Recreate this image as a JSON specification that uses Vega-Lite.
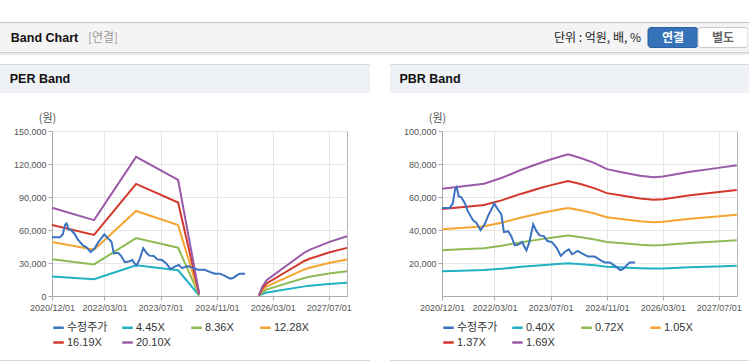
{
  "$schema": "https://vega.github.io/schema/vega-lite/v6.json",
  "padding": {"top": 22, "left": 0, "right": 0, "bottom": 0},
  "background": "white",
  "config": {
    "font": "Liberation Sans, Noto Sans CJK KR",
    "view": {"stroke": null},
    "concat": {"spacing": 0}
  },
  "datasets": {
    "price": [
      {"d": "2020-12-01", "s": "수정주가", "v": 53400},
      {"d": "2021-02-07", "s": "수정주가", "v": 53400},
      {"d": "2021-03-04", "s": "수정주가", "v": 56000},
      {"d": "2021-03-25", "s": "수정주가", "v": 64800},
      {"d": "2021-04-07", "s": "수정주가", "v": 66000},
      {"d": "2021-04-25", "s": "수정주가", "v": 60400},
      {"d": "2021-05-16", "s": "수정주가", "v": 60000},
      {"d": "2021-06-16", "s": "수정주가", "v": 56400},
      {"d": "2021-07-13", "s": "수정주가", "v": 51400},
      {"d": "2021-08-28", "s": "수정주가", "v": 45800},
      {"d": "2021-09-25", "s": "수정주가", "v": 44400},
      {"d": "2021-11-01", "s": "수정주가", "v": 39900},
      {"d": "2021-12-07", "s": "수정주가", "v": 43400},
      {"d": "2022-01-04", "s": "수정주가", "v": 48400},
      {"d": "2022-02-28", "s": "수정주가", "v": 56000},
      {"d": "2022-04-01", "s": "수정주가", "v": 52400},
      {"d": "2022-05-01", "s": "수정주가", "v": 49400},
      {"d": "2022-05-22", "s": "수정주가", "v": 38700},
      {"d": "2022-06-28", "s": "수정주가", "v": 39300},
      {"d": "2022-07-25", "s": "수정주가", "v": 36300},
      {"d": "2022-08-25", "s": "수정주가", "v": 30700},
      {"d": "2022-09-28", "s": "수정주가", "v": 31300},
      {"d": "2022-10-28", "s": "수정주가", "v": 32700},
      {"d": "2022-11-13", "s": "수정주가", "v": 30300},
      {"d": "2022-12-04", "s": "수정주가", "v": 27700},
      {"d": "2022-12-28", "s": "수정주가", "v": 32300},
      {"d": "2023-02-01", "s": "수정주가", "v": 43400},
      {"d": "2023-03-01", "s": "수정주가", "v": 39300},
      {"d": "2023-03-28", "s": "수정주가", "v": 36700},
      {"d": "2023-05-04", "s": "수정주가", "v": 36300},
      {"d": "2023-06-04", "s": "수정주가", "v": 33300},
      {"d": "2023-07-13", "s": "수정주가", "v": 32700},
      {"d": "2023-08-22", "s": "수정주가", "v": 29300},
      {"d": "2023-09-28", "s": "수정주가", "v": 24300},
      {"d": "2023-11-01", "s": "수정주가", "v": 26700},
      {"d": "2023-12-07", "s": "수정주가", "v": 28300},
      {"d": "2024-01-04", "s": "수정주가", "v": 25300},
      {"d": "2024-02-22", "s": "수정주가", "v": 27300},
      {"d": "2024-03-25", "s": "수정주가", "v": 26000},
      {"d": "2024-05-22", "s": "수정주가", "v": 23900},
      {"d": "2024-07-19", "s": "수정주가", "v": 23900},
      {"d": "2024-09-16", "s": "수정주가", "v": 21300},
      {"d": "2024-10-16", "s": "수정주가", "v": 20300},
      {"d": "2024-11-28", "s": "수정주가", "v": 20300},
      {"d": "2025-01-10", "s": "수정주가", "v": 18300},
      {"d": "2025-02-25", "s": "수정주가", "v": 15700},
      {"d": "2025-03-22", "s": "수정주가", "v": 16300},
      {"d": "2025-04-22", "s": "수정주가", "v": 18700},
      {"d": "2025-05-19", "s": "수정주가", "v": 20300},
      {"d": "2025-07-04", "s": "수정주가", "v": 20300}
    ],
    "per": [
      {"d": "2020-12-01", "s": "4.45X", "v": 17756, "g": 1},
      {"d": "2021-12-01", "s": "4.45X", "v": 15276, "g": 1},
      {"d": "2022-12-01", "s": "4.45X", "v": 28006, "g": 1},
      {"d": "2023-12-01", "s": "4.45X", "v": 23357, "g": 1},
      {"d": "2024-06-01", "s": "4.45X", "v": 443, "g": 1},
      {"d": "2025-11-01", "s": "4.45X", "v": 111, "g": 2},
      {"d": "2025-12-01", "s": "4.45X", "v": 1882, "g": 2},
      {"d": "2026-01-10", "s": "4.45X", "v": 3210, "g": 2},
      {"d": "2026-12-01", "s": "4.45X", "v": 8745, "g": 2},
      {"d": "2027-01-15", "s": "4.45X", "v": 9298, "g": 2},
      {"d": "2027-07-01", "s": "4.45X", "v": 10848, "g": 2},
      {"d": "2027-12-06", "s": "4.45X", "v": 12021, "g": 2},
      {"d": "2020-12-01", "s": "8.36X", "v": 33357, "g": 1},
      {"d": "2021-12-01", "s": "8.36X", "v": 28698, "g": 1},
      {"d": "2022-12-01", "s": "8.36X", "v": 52614, "g": 1},
      {"d": "2023-12-01", "s": "8.36X", "v": 43880, "g": 1},
      {"d": "2024-06-01", "s": "8.36X", "v": 832, "g": 1},
      {"d": "2025-11-01", "s": "8.36X", "v": 208, "g": 2},
      {"d": "2025-12-01", "s": "8.36X", "v": 3535, "g": 2},
      {"d": "2026-01-10", "s": "8.36X", "v": 6031, "g": 2},
      {"d": "2026-12-01", "s": "8.36X", "v": 16429, "g": 2},
      {"d": "2027-01-15", "s": "8.36X", "v": 17469, "g": 2},
      {"d": "2027-07-01", "s": "8.36X", "v": 20380, "g": 2},
      {"d": "2027-12-06", "s": "8.36X", "v": 22584, "g": 2},
      {"d": "2020-12-01", "s": "12.28X", "v": 48998, "g": 1},
      {"d": "2021-12-01", "s": "12.28X", "v": 42155, "g": 1},
      {"d": "2022-12-01", "s": "12.28X", "v": 77285, "g": 1},
      {"d": "2023-12-01", "s": "12.28X", "v": 64455, "g": 1},
      {"d": "2024-06-01", "s": "12.28X", "v": 1222, "g": 1},
      {"d": "2025-11-01", "s": "12.28X", "v": 305, "g": 2},
      {"d": "2025-12-01", "s": "12.28X", "v": 5193, "g": 2},
      {"d": "2026-01-10", "s": "12.28X", "v": 8859, "g": 2},
      {"d": "2026-12-01", "s": "12.28X", "v": 24133, "g": 2},
      {"d": "2027-01-15", "s": "12.28X", "v": 25660, "g": 2},
      {"d": "2027-07-01", "s": "12.28X", "v": 29937, "g": 2},
      {"d": "2027-12-06", "s": "12.28X", "v": 33175, "g": 2},
      {"d": "2020-12-01", "s": "16.19X", "v": 64599, "g": 1},
      {"d": "2021-12-01", "s": "16.19X", "v": 55577, "g": 1},
      {"d": "2022-12-01", "s": "16.19X", "v": 101892, "g": 1},
      {"d": "2023-12-01", "s": "16.19X", "v": 84977, "g": 1},
      {"d": "2024-06-01", "s": "16.19X", "v": 1611, "g": 1},
      {"d": "2025-11-01", "s": "16.19X", "v": 403, "g": 2},
      {"d": "2025-12-01", "s": "16.19X", "v": 6846, "g": 2},
      {"d": "2026-01-10", "s": "16.19X", "v": 11679, "g": 2},
      {"d": "2026-12-01", "s": "16.19X", "v": 31816, "g": 2},
      {"d": "2027-01-15", "s": "16.19X", "v": 33830, "g": 2},
      {"d": "2027-07-01", "s": "16.19X", "v": 39468, "g": 2},
      {"d": "2027-12-06", "s": "16.19X", "v": 43737, "g": 2},
      {"d": "2020-12-01", "s": "20.10X", "v": 80200, "g": 1},
      {"d": "2021-12-01", "s": "20.10X", "v": 69000, "g": 1},
      {"d": "2022-12-01", "s": "20.10X", "v": 126500, "g": 1},
      {"d": "2023-12-01", "s": "20.10X", "v": 105500, "g": 1},
      {"d": "2024-06-01", "s": "20.10X", "v": 2000, "g": 1},
      {"d": "2025-11-01", "s": "20.10X", "v": 500, "g": 2},
      {"d": "2025-12-01", "s": "20.10X", "v": 8500, "g": 2},
      {"d": "2026-01-10", "s": "20.10X", "v": 14500, "g": 2},
      {"d": "2026-12-01", "s": "20.10X", "v": 39500, "g": 2},
      {"d": "2027-01-15", "s": "20.10X", "v": 42000, "g": 2},
      {"d": "2027-07-01", "s": "20.10X", "v": 49000, "g": 2},
      {"d": "2027-12-06", "s": "20.10X", "v": 54300, "g": 2}
    ],
    "pbr": [
      {"d": "2020-12-01", "s": "0.40X", "v": 15015},
      {"d": "2021-05-16", "s": "0.40X", "v": 15338},
      {"d": "2021-12-01", "s": "0.40X", "v": 15708},
      {"d": "2022-05-01", "s": "0.40X", "v": 16517},
      {"d": "2022-10-22", "s": "0.40X", "v": 17672},
      {"d": "2023-04-13", "s": "0.40X", "v": 18688},
      {"d": "2023-07-07", "s": "0.40X", "v": 19150},
      {"d": "2023-12-01", "s": "0.40X", "v": 19843},
      {"d": "2024-03-25", "s": "0.40X", "v": 19289},
      {"d": "2024-07-19", "s": "0.40X", "v": 18596},
      {"d": "2024-11-01", "s": "0.40X", "v": 17764},
      {"d": "2025-03-22", "s": "0.40X", "v": 17302},
      {"d": "2025-08-16", "s": "0.40X", "v": 16840},
      {"d": "2025-12-10", "s": "0.40X", "v": 16609},
      {"d": "2026-03-04", "s": "0.40X", "v": 16724},
      {"d": "2026-10-25", "s": "0.40X", "v": 17394},
      {"d": "2027-06-13", "s": "0.40X", "v": 17903},
      {"d": "2027-12-04", "s": "0.40X", "v": 18295},
      {"d": "2020-12-01", "s": "0.72X", "v": 27693},
      {"d": "2021-05-16", "s": "0.72X", "v": 28289},
      {"d": "2021-12-01", "s": "0.72X", "v": 28971},
      {"d": "2022-05-01", "s": "0.72X", "v": 30462},
      {"d": "2022-10-22", "s": "0.72X", "v": 32592},
      {"d": "2023-04-13", "s": "0.72X", "v": 34467},
      {"d": "2023-07-07", "s": "0.72X", "v": 35319},
      {"d": "2023-12-01", "s": "0.72X", "v": 36597},
      {"d": "2024-03-25", "s": "0.72X", "v": 35574},
      {"d": "2024-07-19", "s": "0.72X", "v": 34296},
      {"d": "2024-11-01", "s": "0.72X", "v": 32762},
      {"d": "2025-03-22", "s": "0.72X", "v": 31910},
      {"d": "2025-08-16", "s": "0.72X", "v": 31058},
      {"d": "2025-12-10", "s": "0.72X", "v": 30632},
      {"d": "2026-03-04", "s": "0.72X", "v": 30845},
      {"d": "2026-10-25", "s": "0.72X", "v": 32081},
      {"d": "2027-06-13", "s": "0.72X", "v": 33018},
      {"d": "2027-12-04", "s": "0.72X", "v": 33742},
      {"d": "2020-12-01", "s": "1.05X", "v": 40385},
      {"d": "2021-05-16", "s": "1.05X", "v": 41254},
      {"d": "2021-12-01", "s": "1.05X", "v": 42248},
      {"d": "2022-05-01", "s": "1.05X", "v": 44423},
      {"d": "2022-10-22", "s": "1.05X", "v": 47529},
      {"d": "2023-04-13", "s": "1.05X", "v": 50263},
      {"d": "2023-07-07", "s": "1.05X", "v": 51506},
      {"d": "2023-12-01", "s": "1.05X", "v": 53370},
      {"d": "2024-03-25", "s": "1.05X", "v": 51879},
      {"d": "2024-07-19", "s": "1.05X", "v": 50015},
      {"d": "2024-11-01", "s": "1.05X", "v": 47778},
      {"d": "2025-03-22", "s": "1.05X", "v": 46535},
      {"d": "2025-08-16", "s": "1.05X", "v": 45293},
      {"d": "2025-12-10", "s": "1.05X", "v": 44671},
      {"d": "2026-03-04", "s": "1.05X", "v": 44982},
      {"d": "2026-10-25", "s": "1.05X", "v": 46784},
      {"d": "2027-06-13", "s": "1.05X", "v": 48151},
      {"d": "2027-12-04", "s": "1.05X", "v": 49207},
      {"d": "2020-12-01", "s": "1.37X", "v": 52692},
      {"d": "2021-05-16", "s": "1.37X", "v": 53827},
      {"d": "2021-12-01", "s": "1.37X", "v": 55124},
      {"d": "2022-05-01", "s": "1.37X", "v": 57961},
      {"d": "2022-10-22", "s": "1.37X", "v": 62015},
      {"d": "2023-04-13", "s": "1.37X", "v": 65582},
      {"d": "2023-07-07", "s": "1.37X", "v": 67203},
      {"d": "2023-12-01", "s": "1.37X", "v": 69635},
      {"d": "2024-03-25", "s": "1.37X", "v": 67689},
      {"d": "2024-07-19", "s": "1.37X", "v": 65257},
      {"d": "2024-11-01", "s": "1.37X", "v": 62339},
      {"d": "2025-03-22", "s": "1.37X", "v": 60718},
      {"d": "2025-08-16", "s": "1.37X", "v": 59096},
      {"d": "2025-12-10", "s": "1.37X", "v": 58286},
      {"d": "2026-03-04", "s": "1.37X", "v": 58691},
      {"d": "2026-10-25", "s": "1.37X", "v": 61042},
      {"d": "2027-06-13", "s": "1.37X", "v": 62825},
      {"d": "2027-12-04", "s": "1.37X", "v": 64203},
      {"d": "2020-12-01", "s": "1.69X", "v": 65000},
      {"d": "2021-05-16", "s": "1.69X", "v": 66400},
      {"d": "2021-12-01", "s": "1.69X", "v": 68000},
      {"d": "2022-05-01", "s": "1.69X", "v": 71500},
      {"d": "2022-10-22", "s": "1.69X", "v": 76500},
      {"d": "2023-04-13", "s": "1.69X", "v": 80900},
      {"d": "2023-07-07", "s": "1.69X", "v": 82900},
      {"d": "2023-12-01", "s": "1.69X", "v": 85900},
      {"d": "2024-03-25", "s": "1.69X", "v": 83500},
      {"d": "2024-07-19", "s": "1.69X", "v": 80500},
      {"d": "2024-11-01", "s": "1.69X", "v": 76900},
      {"d": "2025-03-22", "s": "1.69X", "v": 74900},
      {"d": "2025-08-16", "s": "1.69X", "v": 72900},
      {"d": "2025-12-10", "s": "1.69X", "v": 71900},
      {"d": "2026-03-04", "s": "1.69X", "v": 72400},
      {"d": "2026-10-25", "s": "1.69X", "v": 75300},
      {"d": "2027-06-13", "s": "1.69X", "v": 77500},
      {"d": "2027-12-04", "s": "1.69X", "v": 79200}
    ]
  },
  "spacing": 0,
  "bounds": "full",
  "vconcat": [
    {"width": 749, "height": 1, "view": {"fill": "#c4c4c4", "stroke": null}, "data": {"values": []}, "mark": "point"},
    {
      "spacing": 0,
      "bounds": "flush",
      "hconcat": [
        {"width": 89, "height": 29, "view": {"fill": "#f4f4f4", "stroke": null}, "data": {"values": [{"t": "Band Chart"}]},
         "mark": {"type": "text", "fontSize": 12.5, "fontWeight": "bold", "color": "#111111", "baseline": "middle", "align": "center"},
         "encoding": {"text": {"field": "t"}}},
        {"width": 28, "height": 29, "view": {"fill": "#f4f4f4", "stroke": null}, "data": {"values": [{"t": "[연결]"}]},
         "mark": {"type": "text", "fontSize": 12, "color": "#9a9a9a", "baseline": "middle", "align": "center", "font": "Noto Sans CJK KR"},
         "encoding": {"text": {"field": "t"}}},
        {"width": 430, "height": 29, "view": {"fill": "#f4f4f4", "stroke": null}, "data": {"values": []}, "mark": "point"},
        {"width": 101, "height": 29, "view": {"fill": "#f4f4f4", "stroke": null}, "data": {"values": [{"t": "단위 : 억원, 배, %"}]},
         "mark": {"type": "text", "fontSize": 12, "color": "#222222", "baseline": "middle", "align": "center", "font": "Noto Sans CJK KR"},
         "encoding": {"text": {"field": "t"}}},
        {"width": 100, "height": 29, "view": {"fill": "#f4f4f4", "stroke": null},
         "data": {"values": [{"b": "연결"}, {"b": "별도"}]},
         "encoding": {
           "x": {"field": "b", "type": "nominal", "scale": {"domain": ["연결", "별도"], "paddingInner": 0, "paddingOuter": 0}, "axis": null},
           "y": {"datum": "r", "type": "nominal", "scale": {"paddingInner": 0, "paddingOuter": 0.225}, "axis": null}
         },
         "layer": [
           {"mark": {"type": "rect", "cornerRadius": 3, "strokeWidth": 1},
            "encoding": {
              "fill": {"condition": {"test": "datum.b === '연결'", "value": "#3572b8"}, "value": "#ffffff"},
              "stroke": {"condition": {"test": "datum.b === '연결'", "value": "#2b5f9f"}, "value": "#c9c9c9"}
            }},
           {"mark": {"type": "text", "fontSize": 12, "fontWeight": "bold", "baseline": "middle", "align": "center", "font": "Noto Sans CJK KR"},
            "encoding": {
              "text": {"field": "b"},
              "color": {"condition": {"test": "datum.b === '연결'", "value": "#ffffff"}, "value": "#666666"}
            }}
         ]},
        {"width": 1, "height": 29, "view": {"fill": "#f4f4f4", "stroke": null}, "data": {"values": []}, "mark": "point"}
      ]
    },
    {"width": 749, "height": 1, "view": {"fill": "#cfcfcf", "stroke": null}, "data": {"values": []}, "mark": "point"},
    {"width": 749, "height": 2, "view": {"fill": "#ececec", "stroke": null}, "data": {"values": []}, "mark": "point"},
    {"width": 749, "height": 9, "view": {"fill": "#ffffff", "stroke": null}, "data": {"values": []}, "mark": "point"},
    {
      "spacing": 20,
      "bounds": "flush",
      "hconcat": [
        {"width": 370, "height": 1, "view": {"fill": "#d9d9d9", "stroke": null}, "data": {"values": []}, "mark": "point"},
        {"width": 359, "height": 1, "view": {"fill": "#d9d9d9", "stroke": null}, "data": {"values": []}, "mark": "point"}
      ]
    },
    {
      "spacing": 20,
      "bounds": "full",
      "hconcat": [
        {
          "spacing": 0,
          "bounds": "flush",
          "hconcat": [
            {"width": 80, "height": 28, "view": {"fill": "#eef2f7", "stroke": null}, "data": {"values": [{"t": "PER Band"}]},
             "mark": {"type": "text", "fontSize": 12.5, "fontWeight": "bold", "color": "#111111", "baseline": "middle", "align": "center"},
             "encoding": {"text": {"field": "t"}}},
            {"width": 290, "height": 28, "view": {"fill": "#eef2f7", "stroke": null}, "data": {"values": []}, "mark": "point"}
          ]
        },
        {
          "spacing": 0,
          "bounds": "flush",
          "hconcat": [
            {"width": 80, "height": 28, "view": {"fill": "#eef2f7", "stroke": null}, "data": {"values": [{"t": "PBR Band"}]},
             "mark": {"type": "text", "fontSize": 12.5, "fontWeight": "bold", "color": "#111111", "baseline": "middle", "align": "center"},
             "encoding": {"text": {"field": "t"}}},
            {"width": 279, "height": 28, "view": {"fill": "#eef2f7", "stroke": null}, "data": {"values": []}, "mark": "point"}
          ]
        }
      ]
    },
    {"width": 749, "height": 18, "view": {"fill": "#ffffff", "stroke": null}, "data": {"values": []}, "mark": "point"},
    {
      "spacing": 0,
      "bounds": "flush",
      "resolve": {"scale": {"color": "independent", "x": "independent", "y": "independent"}, "legend": {"color": "independent"}},
      "hconcat": [
        {"width": 52, "height": 165, "data": {"values": []}, "mark": "point"},
        {
          "width": 295,
          "height": 165,
          "view": {"stroke": "#b5b5b5"},
          "encoding": {
            "x": {"field": "d", "type": "temporal",
              "scale": {"type": "utc", "domain": [{"year": 2020, "month": 12, "date": 1, "utc": true}, {"year": 2027, "month": 12, "date": 6, "utc": true}]},
              "axis": {"values": [{"year": 2020, "month": 12, "date": 1, "utc": true}, {"year": 2022, "month": 3, "date": 1, "utc": true}, {"year": 2023, "month": 7, "date": 1, "utc": true}, {"year": 2024, "month": 11, "date": 1, "utc": true}, {"year": 2026, "month": 3, "date": 1, "utc": true}, {"year": 2027, "month": 7, "date": 1, "utc": true}],
                "format": "%Y/%m/%d", "title": null, "grid": true, "gridColor": "#e6e6e6", "domainColor": "#aaaaaa", "tickColor": "#aaaaaa", "tickSize": 4,
                "labelFontSize": 9, "labelColor": "#555555", "labelPadding": 3, "labelOverlap": false, "labelFlush": false}},
            "y": {"field": "v", "type": "quantitative",
              "scale": {"domain": [0, 150000], "nice": false},
              "axis": {"values": [0, 30000, 60000, 90000, 120000, 150000], "format": ",d", "title": "(원)", "titleAngle": 0, "titleX": -5, "titleY": -13,
                "titleAlign": "center", "titleBaseline": "middle", "titleFontWeight": "normal", "titleFontSize": 11, "titleColor": "#555555", "titleFont": "Noto Sans CJK KR",
                "grid": true, "gridColor": "#e6e6e6", "domainColor": "#aaaaaa", "tickColor": "#aaaaaa", "tickSize": 4,
                "labelFontSize": 9, "labelColor": "#555555", "labelPadding": 2}},
            "color": {"field": "s", "type": "nominal",
              "scale": {"domain": ["수정주가", "4.45X", "8.36X", "12.28X", "16.19X", "20.10X"], "range": ["#3b72c0", "#20b2c4", "#8fbb55", "#f4a531", "#d4382c", "#9a5aa8"]},
              "legend": {"title": null, "orient": "bottom", "direction": "horizontal", "columns": 4, "gridAlign": "all", "symbolType": "stroke", "symbolSize": 110,
                "symbolStrokeWidth": 2.5, "labelFontSize": 11, "labelColor": "#333333", "columnPadding": 9, "rowPadding": 3, "offset": 9, "labelOffset": 2}}
          },
          "layer": [
            {"data": {"name": "per"}, "mark": {"type": "line", "strokeWidth": 2}, "encoding": {"detail": {"field": "g", "type": "nominal"}}},
            {"data": {"name": "price"}, "mark": {"type": "line", "strokeWidth": 2}, "encoding": {}}
          ]
        },
        {"width": 95, "height": 165, "data": {"values": []}, "mark": "point"},
        {
          "width": 295,
          "height": 165,
          "view": {"stroke": "#b5b5b5"},
          "encoding": {
            "x": {"field": "d", "type": "temporal",
              "scale": {"type": "utc", "domain": [{"year": 2020, "month": 12, "date": 1, "utc": true}, {"year": 2027, "month": 12, "date": 6, "utc": true}]},
              "axis": {"values": [{"year": 2020, "month": 12, "date": 1, "utc": true}, {"year": 2022, "month": 3, "date": 1, "utc": true}, {"year": 2023, "month": 7, "date": 1, "utc": true}, {"year": 2024, "month": 11, "date": 1, "utc": true}, {"year": 2026, "month": 3, "date": 1, "utc": true}, {"year": 2027, "month": 7, "date": 1, "utc": true}],
                "format": "%Y/%m/%d", "title": null, "grid": true, "gridColor": "#e6e6e6", "domainColor": "#aaaaaa", "tickColor": "#aaaaaa", "tickSize": 4,
                "labelFontSize": 9, "labelColor": "#555555", "labelPadding": 3, "labelOverlap": false, "labelFlush": false}},
            "y": {"field": "v", "type": "quantitative",
              "scale": {"domain": [0, 100000], "nice": false},
              "axis": {"values": [20000, 40000, 60000, 80000, 100000], "format": ",d", "title": "(원)", "titleAngle": 0, "titleX": -5, "titleY": -13,
                "titleAlign": "center", "titleBaseline": "middle", "titleFontWeight": "normal", "titleFontSize": 11, "titleColor": "#555555", "titleFont": "Noto Sans CJK KR",
                "grid": true, "gridColor": "#e6e6e6", "domainColor": "#aaaaaa", "tickColor": "#aaaaaa", "tickSize": 4,
                "labelFontSize": 9, "labelColor": "#555555", "labelPadding": 2}},
            "color": {"field": "s", "type": "nominal",
              "scale": {"domain": ["수정주가", "0.40X", "0.72X", "1.05X", "1.37X", "1.69X"], "range": ["#3b72c0", "#20b2c4", "#8fbb55", "#f4a531", "#d4382c", "#9a5aa8"]},
              "legend": {"title": null, "orient": "bottom", "direction": "horizontal", "columns": 4, "gridAlign": "all", "symbolType": "stroke", "symbolSize": 110,
                "symbolStrokeWidth": 2.5, "labelFontSize": 11, "labelColor": "#333333", "columnPadding": 9, "rowPadding": 3, "offset": 9, "labelOffset": 2}}
          },
          "layer": [
            {"data": {"name": "pbr"}, "mark": {"type": "line", "strokeWidth": 2}, "encoding": {}},
            {"data": {"name": "price"}, "mark": {"type": "line", "strokeWidth": 2}, "encoding": {}}
          ]
        }
      ]
    },
    {"width": 749, "height": 11, "view": {"fill": "#ffffff", "stroke": null}, "data": {"values": []}, "mark": "point"},
    {
      "spacing": 20,
      "bounds": "flush",
      "hconcat": [
        {"width": 370, "height": 1, "view": {"fill": "#d9d9d9", "stroke": null}, "data": {"values": []}, "mark": "point"},
        {"width": 359, "height": 1, "view": {"fill": "#d9d9d9", "stroke": null}, "data": {"values": []}, "mark": "point"}
      ]
    }
  ]
}
